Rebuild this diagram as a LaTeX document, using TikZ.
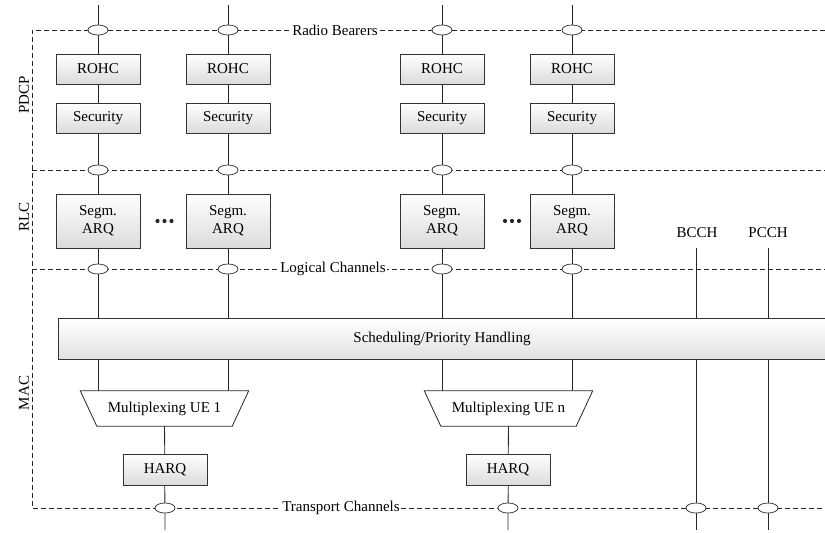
\documentclass[tikz,border=0pt]{standalone}
\usepackage{fontspec}
\setmainfont{Liberation Serif}
\usetikzlibrary{shapes.geometric,backgrounds}
\begin{document}
\begin{tikzpicture}[x=1pt,y=-1pt,
  font=\fontsize{15}{18}\selectfont,
  box/.style={draw=black!80, line width=0.8pt, top color=white, bottom color=black!14, minimum width=84pt, minimum height=30pt, inner sep=0pt, align=center},
  tallbox/.style={box, minimum height=54pt},
  port/.style={ellipse, draw=black!85, fill=white, line width=0.7pt, minimum width=20pt, minimum height=10pt, inner sep=0pt},
  mux/.style={rectangle, minimum width=168pt, minimum height=35pt, inner sep=0pt},
  muxshape/.style={draw=black!85, fill=white, line width=0.8pt},
  wire/.style={draw=black!85, line width=0.8pt},
  dline/.style={draw=black!85, line width=0.7pt, dash pattern=on 5pt off 3pt},
  lbl/.style={fill=white, inner sep=1.5pt},
  dotc/.style={circle, fill=black!85, minimum size=4.2pt, inner sep=0pt}
]
\useasboundingbox (0,0) rectangle (825,533);

% frame coordinates
\coordinate (fTL) at (32,30);
\coordinate (fTR) at (825,30);
\coordinate (f2L) at (32,170);
\coordinate (f2R) at (825,170);
\coordinate (f3L) at (32,269);
\coordinate (f3R) at (825,269);
\coordinate (fBL) at (32,508);
\coordinate (fBR) at (825,508);

% column top/bottom coordinates
\coordinate (top1) at (98,5);
\coordinate (top2) at (228,5);
\coordinate (top3) at (442,5);
\coordinate (top4) at (572,5);
\coordinate (bot1) at (165,530);
\coordinate (bot2) at (508,530);
\coordinate (bcchtop) at (696,248);
\coordinate (bcchbot) at (696,530);
\coordinate (pcchtop) at (768,248);
\coordinate (pcchbot) at (768,530);

% PDCP
\node[box] (rohc1) at (98,69) {ROHC};
\node[box] (rohc2) at (228,69) {ROHC};
\node[box] (rohc3) at (442,69) {ROHC};
\node[box] (rohc4) at (572,69) {ROHC};
\node[box] (sec1) at (98,118) {Security};
\node[box] (sec2) at (228,118) {Security};
\node[box] (sec3) at (442,118) {Security};
\node[box] (sec4) at (572,118) {Security};

% RLC
\node[tallbox] (arq1) at (98,221) {Segm.\\ARQ};
\node[tallbox] (arq2) at (228,221) {Segm.\\ARQ};
\node[tallbox] (arq3) at (442,221) {Segm.\\ARQ};
\node[tallbox] (arq4) at (572,221) {Segm.\\ARQ};
\node[dotc] (da1) at (157.5,221) {};
\node[dotc] (da2) at (164.5,221) {};
\node[dotc] (da3) at (171.5,221) {};
\node[dotc] (db1) at (505,221) {};
\node[dotc] (db2) at (512,221) {};
\node[dotc] (db3) at (519,221) {};

% MAC
\node[box, minimum width=768pt, minimum height=41pt, bottom color=black!12] (sched) at (442,338.5) {Scheduling/Priority Handling};
\node[mux] (mux1) at (164.5,408.5) {Multiplexing UE 1};
\node[mux] (muxn) at (508.5,408.5) {Multiplexing UE n};
\node[box, minimum height=31pt] (harq1) at (165,469.5) {HARQ};
\node[box, minimum height=31pt] (harqn) at (508,469.5) {HARQ};

\node (bcch) at (697,233) {BCCH};
\node (pcch) at (768,233) {PCCH};

% SAP ellipses
\node[port] (rb1) at (98,30) {};
\node[port] (rb2) at (228,30) {};
\node[port] (rb3) at (442,30) {};
\node[port] (rb4) at (572,30) {};
\node[port] (pr1) at (98,170) {};
\node[port] (pr2) at (228,170) {};
\node[port] (pr3) at (442,170) {};
\node[port] (pr4) at (572,170) {};
\node[port] (lc1) at (98,269) {};
\node[port] (lc2) at (228,269) {};
\node[port] (lc3) at (442,269) {};
\node[port] (lc4) at (572,269) {};
\node[port] (tc1) at (165,508) {};
\node[port] (tc2) at (508,508) {};
\node[port] (tc3) at (696,508) {};
\node[port] (tc4) at (768,508) {};

% line labels
\node[lbl] (lrb) at (335,30) {Radio Bearers};
\node[lbl] (llc) at (333,269) {Logical Channels};
\node[lbl] (ltc) at (341,508) {Transport Channels};

% layer labels
\node[rotate=90] (pdcp) at (24,95) {PDCP};
\node[rotate=90] (rlc) at (24,217) {RLC};
\node[rotate=90] (mac) at (24,393) {MAC};

\begin{pgfonlayer}{background}
  \draw[dline] (fTR) -- (fTL) -- (fBL) -- (fBR);
  \draw[dline] (f2L) -- (f2R);
  \draw[dline] (f3L) -- (f3R);
  \foreach \t in {top1,top2,top3,top4}
    \draw[wire] (\t) -- (\t |- sched.north);
  \draw[wire] (sched.south -| top1) -- (top1 |- mux1.center);
  \draw[wire] (sched.south -| top2) -- (top2 |- mux1.center);
  \draw[wire] (sched.south -| top3) -- (top3 |- muxn.center);
  \draw[wire] (sched.south -| top4) -- (top4 |- muxn.center);
  \draw[wire] (mux1.center) -- (bot1);
  \draw[wire] (muxn.center) -- (bot2);
  \draw[wire] (bcchtop) -- (bcchbot);
  \draw[wire] (pcchtop) -- (pcchbot);
  \foreach \m in {mux1,muxn}
    \draw[muxshape] (\m.north west) -- (\m.north east)
      -- ([xshift=-16.5pt]\m.south east) -- ([xshift=16.5pt]\m.south west) -- cycle;
\end{pgfonlayer}
\end{tikzpicture}
\end{document}
